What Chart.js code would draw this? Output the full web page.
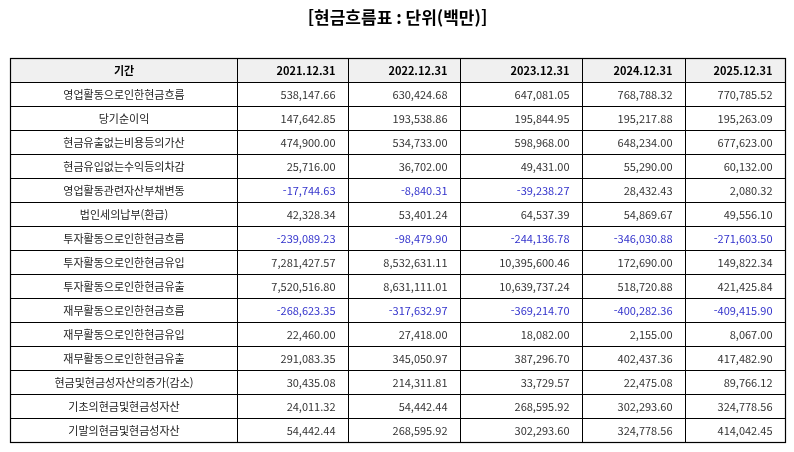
<!DOCTYPE html>
<html lang="ko">
<head>
  <meta charset="UTF-8">
  <title>현금흐름표</title>
  <script src="https://cdn.jsdelivr.net/npm/chart.js@4.4.1/dist/chart.umd.min.js"></script>
  <style>
    body { margin: 0; background: #ffffff; }
    #wrap { width: 794px; height: 452px; }
  </style>
</head>
<body>
  <div id="wrap"><canvas id="cashTable" width="794" height="452"></canvas></div>
  <script>
    const periods = ['2021.12.31', '2022.12.31', '2023.12.31', '2024.12.31', '2025.12.31'];
    const items = [
      '영업활동으로인한현금흐름', '당기순이익', '현금유출없는비용등의가산', '현금유입없는수익등의차감',
      '영업활동관련자산부채변동', '법인세의납부(환급)', '투자활동으로인한현금흐름', '투자활동으로인한현금유입',
      '투자활동으로인한현금유출', '재무활동으로인한현금흐름', '재무활동으로인한현금유입', '재무활동으로인한현금유출',
      '현금및현금성자산의증가(감소)', '기초의현금및현금성자산', '기말의현금및현금성자산'
    ];
    const v2021 = [538147.66, 147642.85, 474900.00, 25716.00, -17744.63, 42328.34, -239089.23, 7281427.57,
      7520516.80, -268623.35, 22460.00, 291083.35, 30435.08, 24011.32, 54442.44];
    const v2022 = [630424.68, 193538.86, 534733.00, 36702.00, -8840.31, 53401.24, -98479.90, 8532631.11,
      8631111.01, -317632.97, 27418.00, 345050.97, 214311.81, 54442.44, 268595.92];
    const v2023 = [647081.05, 195844.95, 598968.00, 49431.00, -39238.27, 64537.39, -244136.78, 10395600.46,
      10639737.24, -369214.70, 18082.00, 387296.70, 33729.57, 268595.92, 302293.60];
    const v2024 = [768788.32, 195217.88, 648234.00, 55290.00, 28432.43, 54869.67, -346030.88, 172690.00,
      518720.88, -400282.36, 2155.00, 402437.36, 22475.08, 302293.60, 324778.56];
    const v2025 = [770785.52, 195263.09, 677623.00, 60132.00, 2080.32, 49556.10, -271603.50, 149822.34,
      421425.84, -409415.90, 8067.00, 417482.90, 89766.12, 324778.56, 414042.45];
    const columns = [v2021, v2022, v2023, v2024, v2025];

    // column edges in x-scale units (first column is the item label)
    const colEdges = [0, 227, 338, 450, 572, 675, 775];
    const rowCount = items.length + 1;

    const fmt = (n) => n.toLocaleString('en-US', { minimumFractionDigits: 2, maximumFractionDigits: 2 });
    const font = '"Noto Sans CJK KR", "Noto Sans", sans-serif';

    const tablePlugin = {
      id: 'tablePlugin',
      afterDraw(chart) {
        const { ctx, scales: { x, y } } = chart;
        const px = (c) => Math.round(x.getPixelForValue(colEdges[c])) + 0.5;
        const py = (r) => Math.round(y.getPixelForValue(r)) + 0.5;
        ctx.save();

        // header background
        ctx.fillStyle = '#f0f0f0';
        ctx.fillRect(px(0), py(0), px(6) - px(0), py(1) - py(0));

        // grid
        ctx.strokeStyle = '#000';
        ctx.lineWidth = 1;
        ctx.beginPath();
        for (let r = 0; r <= rowCount; r++) {
          ctx.moveTo(px(0), py(r));
          ctx.lineTo(px(6), py(r));
        }
        for (let c = 0; c < colEdges.length; c++) {
          ctx.moveTo(px(c), py(0));
          ctx.lineTo(px(c), py(rowCount));
        }
        ctx.stroke();
        ctx.lineWidth = 1.2;
        ctx.strokeRect(px(0), py(0), px(6) - px(0), py(rowCount) - py(0));

        ctx.textBaseline = 'middle';
        const midY = (r) => (y.getPixelForValue(r) + y.getPixelForValue(r + 1)) / 2 + 0.5;

        // header row
        ctx.fillStyle = '#000';
        ctx.font = 'bold 11px ' + font;
        ctx.textAlign = 'center';
        ctx.fillText('기간', (px(0) + px(1)) / 2, midY(0));
        ctx.textAlign = 'right';
        periods.forEach((p, i) => ctx.fillText(p, px(i + 2) - 13, midY(0)));

        // body rows
        ctx.font = '11px ' + font;
        items.forEach((label, r) => {
          ctx.fillStyle = '#222';
          ctx.textAlign = 'center';
          ctx.fillText(label, (px(0) + px(1)) / 2, midY(r + 1));
          ctx.textAlign = 'right';
          columns.forEach((col, i) => {
            const val = col[r];
            ctx.fillStyle = val < 0 ? '#3333cc' : '#333';
            ctx.fillText(fmt(val), px(i + 2) - 13, midY(r + 1));
          });
        });
        ctx.restore();
      }
    };

    new Chart(document.getElementById('cashTable'), {
      type: 'scatter',
      data: { datasets: [] },
      options: {
        responsive: false,
        animation: false,
        layout: { padding: { left: 10, right: 9, top: 0, bottom: 10 } },
        plugins: {
          legend: { display: false },
          tooltip: { enabled: false },
          title: {
            display: true,
            text: '[현금흐름표 : 단위(백만)]',
            color: '#000',
            font: { family: font, size: 17, weight: 'bold' },
            padding: { top: 7, bottom: 31 }
          }
        },
        scales: {
          x: { type: 'linear', min: 0, max: 775, display: false },
          y: { type: 'linear', min: 0, max: rowCount, reverse: true, display: false }
        }
      },
      plugins: [tablePlugin]
    });
  </script>
</body>
</html>
